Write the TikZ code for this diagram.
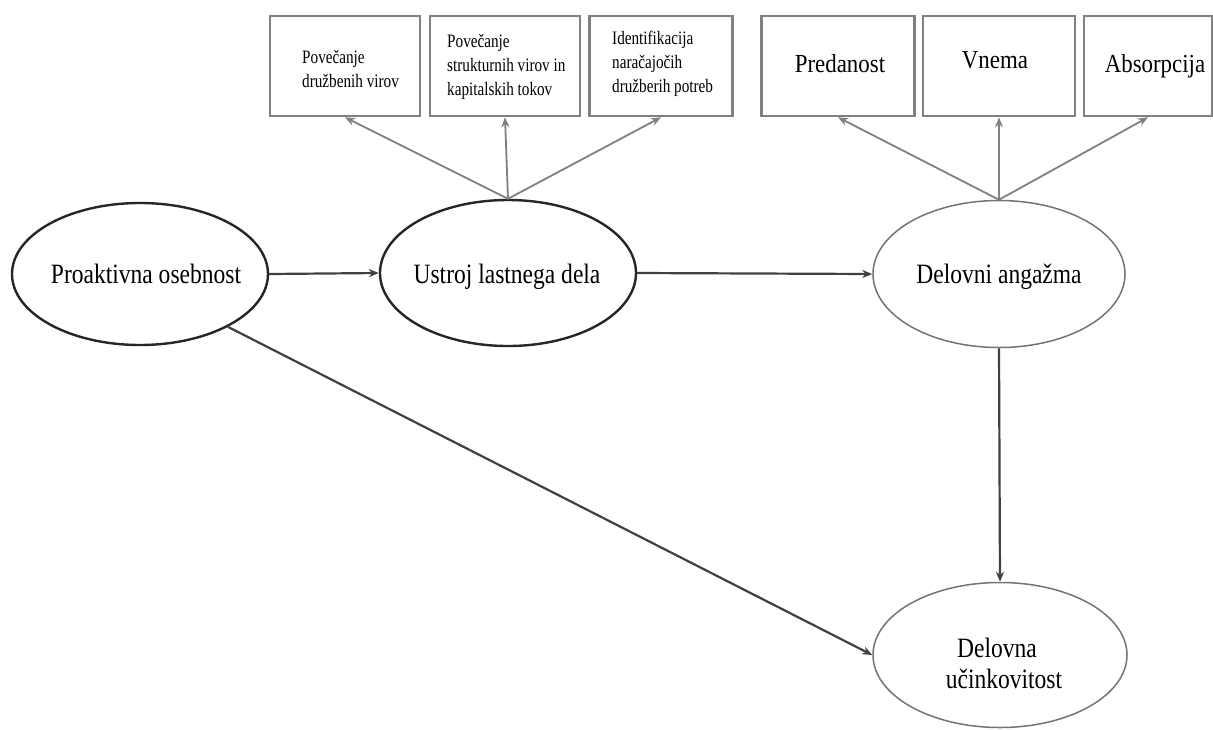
\documentclass[tikz,border=0pt]{standalone}
\usepackage{fontspec}
\setmainfont{Liberation Serif}
\newfontfamily\ovalfont[FakeStretch=0.84]{Liberation Serif}
\newfontfamily\boxfont[FakeStretch=0.88]{Liberation Serif}
\newfontfamily\smallfont[FakeStretch=0.8]{Liberation Serif}
\usetikzlibrary{arrows.meta,shapes.geometric}
\begin{document}
\begin{tikzpicture}[x=1pt,y=-1pt,
  construct/.style={draw=#1,ellipse,inner sep=0pt},
  ovaltxt/.style={font=\ovalfont\fontsize{28}{31}\selectfont,inner sep=0pt,anchor=base,align=center},
  facet/.style={draw=black!50,line width=2.6pt,inner sep=0pt,minimum height=100pt},
  smalltxt/.style={font=\smallfont\fontsize{19}{24}\selectfont,align=left,inner sep=0pt,anchor=base west},
  bigtxt/.style={font=\boxfont\fontsize{26}{28}\selectfont,inner sep=0pt,anchor=base},
  mainarrow/.style={-{Stealth[length=10pt,width=8pt]},draw=black!75,line width=2.2pt},
  subarrow/.style={-{Stealth[length=10pt,width=8pt]},draw=black!50,line width=1.8pt}]
\useasboundingbox (0,0) rectangle (1213,729);

% latent constructs
\node[construct=black!85,line width=2.4pt,minimum width=256pt,minimum height=142pt] (pro) at (140,274) {};
\node[construct=black!85,line width=2.4pt,minimum width=256pt,minimum height=146pt] (ust) at (508,273) {};
\node[construct=black!55,line width=1.5pt,minimum width=252pt,minimum height=147pt] (ang) at (999,274) {};
\node[construct=black!55,line width=1.5pt,minimum width=254pt,minimum height=145pt] (uci) at (1000,655) {};
\node[ovaltxt] (proT) at (146,283) {Proaktivna osebnost};
\node[ovaltxt] (ustT) at (507,283) {Ustroj lastnega dela};
\node[ovaltxt] (angT) at (999,283) {Delovni angažma};
\node[ovaltxt] (uciA) at (997,657) {Delovna};
\node[ovaltxt] (uciB) at (1004,688) {učinkovitost};

% indicator boxes of job crafting
\node[facet,minimum width=150pt] (b1) at (345,66) {};
\node[facet,minimum width=150pt] (b2) at (505,66) {};
\node[facet,minimum width=143pt] (b3) at (661,66) {};
\node[smalltxt] (t1) at (302,87) {Povečanje\\družbenih virov};
\node[smalltxt] (t2) at (447,95) {Povečanje\\strukturnih virov in\\kapitalskih tokov};
\node[smalltxt] (t3) at (612,92) {Identifikacija\\naračajočih\\družberih potreb};

% indicator boxes of work engagement
\node[facet,minimum width=153pt] (b4) at (838,66) {};
\node[facet,minimum width=152pt] (b5) at (999,66) {};
\node[facet,minimum width=128pt] (b6) at (1148,66) {};
\node[bigtxt] (t4) at (840,72) {Predanost};
\node[bigtxt] (t5) at (995,68) {Vnema};
\node[bigtxt] (t6) at (1155,72) {Absorpcija};

% structural paths
\draw[mainarrow] (pro.east) -- (ust.west);
\draw[mainarrow] (ust.east) -- (ang.west);
\draw[mainarrow] (ang.south) -- (uci.north);
\draw[mainarrow] (pro.-31) -- (uci.west);

% measurement paths
\coordinate (u0) at (ust.north);
\coordinate (a0) at (ang.north);
\draw[subarrow] (u0) -- (b1.south);
\draw[subarrow] (u0) -- (b2.south);
\draw[subarrow] (u0) -- (b3.south);
\draw[subarrow] (a0) -- (b4.south);
\draw[subarrow] (a0) -- (b5.south);
\draw[subarrow] (a0) -- (b6.south);
\end{tikzpicture}
\end{document}
